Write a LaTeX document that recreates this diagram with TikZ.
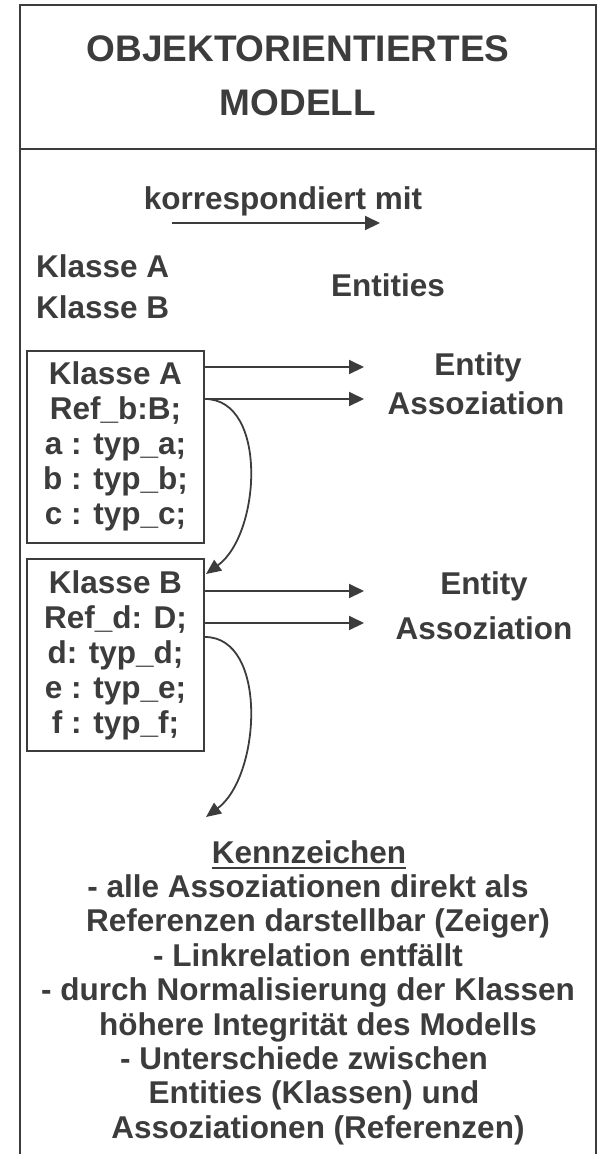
\documentclass[tikz,border=0pt]{standalone}
\usepackage{fontspec}
\setmainfont{Liberation Sans}
\usetikzlibrary{arrows.meta}
\definecolor{ink}{HTML}{3C3C3C}

\begin{document}
\begin{tikzpicture} [x=1pt, y=-1pt,
    txt/.style={font=\fontsize{31.5}{35}\selectfont\bfseries, text=ink, inner sep=0pt},
    titel/.style={txt, font=\fontsize{37}{44}\selectfont\bfseries},
    klasse/.style={txt, draw=ink, line width=2pt, align=center, minimum width=177pt, minimum height=192pt},
    pfeil/.style={draw=ink, line width=2pt, -{Triangle[length=15pt, width=14pt]}},
    zeiger/.style={draw=ink, line width=1.8pt, -{Triangle[length=15pt, width=13pt]}}]
      \useasboundingbox (0,0) rectangle (599,1154);

      % 枠
      \draw [ink, line width=2.5pt](20,1154) -- (20,5) -- (596,5) -- (596,1154);
      \draw [ink, line width=2.5pt](20,149) -- (596,149);

      % タイトル
      \node [titel, anchor=base] (titel1) at (298,61) {OBJEKTORIENTIERTES};
      \node [titel, anchor=base] (titel2) at (298,115) {MODELL};

      % 対応
      \node [txt, anchor=base] (korr) at (283,209) {korrespondiert mit};
      \coordinate (k0) at (172,223);
      \coordinate (k1) at (380,223);
      \draw [pfeil](k0) -- (k1);
      \node [txt, anchor=base west] (listeA) at (36,277) {Klasse A};
      \node [txt, anchor=base west] (listeB) at (36,318) {Klasse B};
      \node [txt, anchor=base] (entities) at (388,296) {Entities};

      % クラス
      \node [klasse] (klasseA) at (115.5,446.5) {Klasse A\\Ref\_b:B;\\a : typ\_a;\\b : typ\_b;\\c : typ\_c;};
      \node [klasse] (klasseB) at (115.5,655) {Klasse B\\Ref\_d: D;\\d: typ\_d;\\e : typ\_e;\\f : typ\_f;};

      % 矢印
      \coordinate (ea) at (364,367);
      \coordinate (aa) at (364,399);
      \coordinate (eb) at (364,591);
      \coordinate (ab) at (364,623);
      \coordinate (zd) at (206,817);
      \draw [pfeil](klasseA.east |- ea) -- (ea);
      \draw [pfeil](klasseA.east |- aa) -- (aa);
      \draw [pfeil](klasseB.east |- eb) -- (eb);
      \draw [pfeil](klasseB.east |- ab) -- (ab);
      \draw [zeiger](klasseA.east |- aa) .. controls +(63,0) and +(55,-40) .. ([shift={(1,16)}]klasseB.north east);
      \draw [zeiger]([shift={(0,79)}]klasseB.north east) .. controls +(63,0) and +(55,-41) .. (zd);

      \node [txt, anchor=base] (entityA) at (478,375) {Entity};
      \node [txt, anchor=base] (assozA) at (476,414) {Assoziation};
      \node [txt, anchor=base] (entityB) at (484,594) {Entity};
      \node [txt, anchor=base] (assozB) at (484,639) {Assoziation};

      % 説明
      \node [txt, anchor=base] (kennz) at (309,863) {Kennzeichen};
      \draw [ink, line width=2.5pt]([shift={(0,5)}]kennz.base west) -- ([shift={(0,5)}]kennz.base east);
      \foreach \dx/\zeile [count=\i] in {0/- alle Assoziationen direkt als, 10/Referenzen darstellbar (Zeiger),
          0/- Linkrelation entfällt, 0/- durch Normalisierung der Klassen, 10/höhere Integrität des Modells,
          -4/- Unterschiede zwischen, 6/Entities (Klassen) und, 10/Assoziationen (Referenzen)}
        \node [txt, anchor=base] (punkt\i) at (308+\dx, 863+34.4*\i) {\zeile};
    \end{tikzpicture}
\end{document}
